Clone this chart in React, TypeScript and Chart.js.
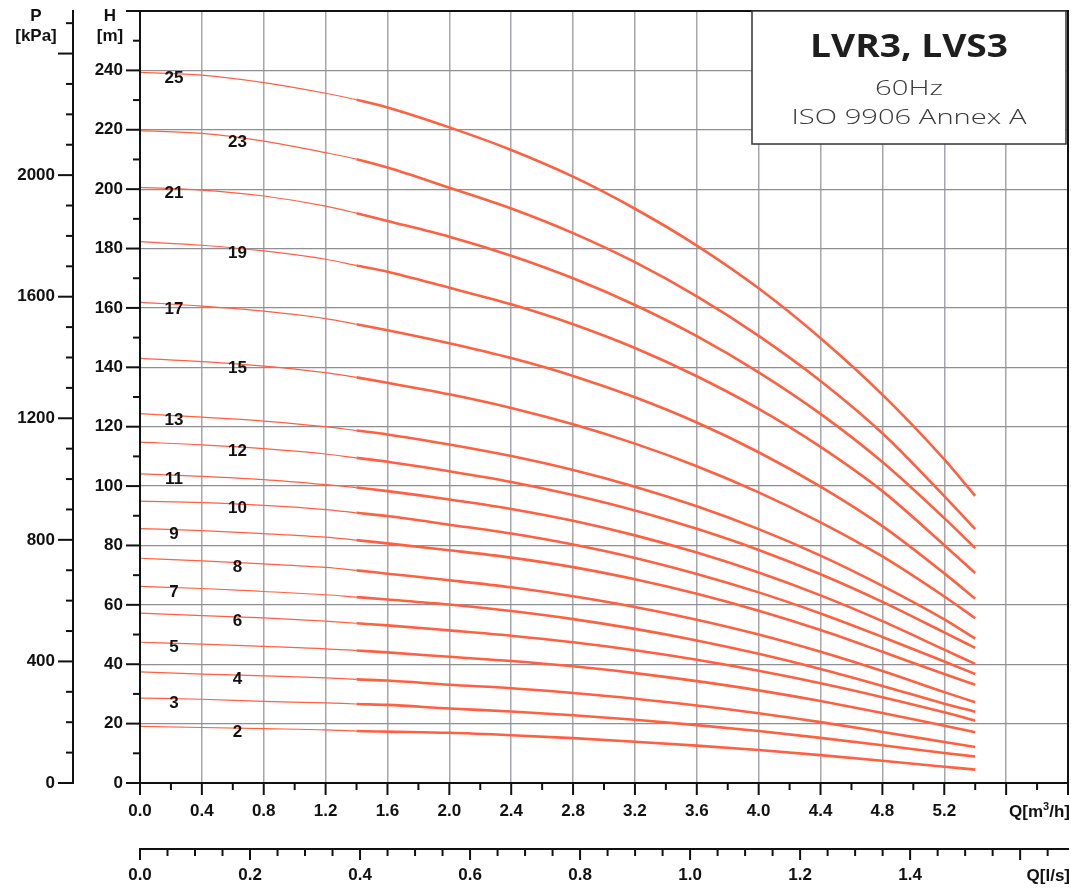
import React, { useEffect, useRef } from 'react';
import { Chart, registerables } from 'chart.js';

Chart.register(...registerables);

// ---------------- DATA ----------------
// Flow points (m3/h) at which every head curve is read
const flowQ = [0, 0.4, 0.8, 1.2, 1.4, 1.6, 2.0, 2.4, 2.8, 3.2, 3.6, 4.0, 4.4, 4.8, 5.2, 5.4];
// Number of stages of each curve (top to bottom)
const stages = [25, 23, 21, 19, 17, 15, 13, 12, 11, 10, 9, 8, 7, 6, 5, 4, 3, 2];

// Head H [m] of each curve at the flow points
const head25 = [239.3, 238.4, 235.9, 232.3, 230.1, 227.5, 220.8, 213.2, 204.2, 193.4, 181.0, 166.6, 149.8, 130.8, 109.0, 96.7];
const head23 = [219.7, 218.8, 216.2, 212.3, 210.1, 207.3, 200.5, 193.5, 185.2, 175.4, 163.9, 150.6, 135.4, 117.8, 96.6, 85.5];
const head21 = [200.6, 199.7, 197.7, 194.3, 191.9, 189.3, 184.0, 177.6, 170.0, 161.0, 150.5, 138.3, 124.3, 108.1, 89.2, 79.1];
const head19 = [182.3, 181.1, 179.2, 176.4, 174.3, 172.2, 166.8, 161.2, 154.5, 146.5, 137.0, 126.0, 113.2, 98.3, 80.1, 70.7];
const head17 = [161.9, 160.6, 158.9, 156.4, 154.5, 152.5, 148.1, 143.1, 137.1, 129.9, 121.4, 111.4, 99.8, 86.5, 70.6, 62.1];
const head15 = [143.0, 141.9, 140.4, 138.2, 136.6, 134.8, 130.9, 126.3, 120.8, 114.3, 106.7, 97.9, 87.8, 76.3, 62.8, 55.5];
const head13 = [124.4, 123.2, 121.9, 120.0, 118.7, 117.4, 114.0, 110.1, 105.4, 99.8, 93.2, 85.5, 76.6, 66.4, 55.1, 48.6];
const head12 = [114.8, 113.9, 112.6, 110.8, 109.5, 108.2, 105.0, 101.4, 97.0, 91.8, 85.6, 78.5, 70.3, 61.0, 50.7, 45.5];
const head11 = [104.1, 103.3, 102.2, 100.5, 99.5, 98.3, 95.5, 92.3, 88.3, 83.4, 77.6, 70.9, 63.2, 54.5, 44.9, 40.1];
const head10 = [94.9, 94.4, 93.5, 92.1, 91.0, 89.9, 87.0, 84.0, 80.3, 75.8, 70.4, 64.2, 57.1, 49.2, 40.9, 36.7];
const head9 = [85.7, 85.0, 84.0, 82.8, 81.8, 80.7, 78.4, 75.9, 72.7, 68.6, 63.7, 58.0, 51.5, 44.2, 36.7, 33.1];
const head8 = [75.7, 74.8, 73.8, 72.6, 71.6, 70.5, 68.3, 65.9, 62.9, 59.3, 55.0, 50.0, 44.2, 37.7, 30.6, 27.2];
const head7 = [66.2, 65.5, 64.5, 63.4, 62.6, 61.8, 60.1, 57.9, 55.2, 51.9, 48.0, 43.5, 38.4, 32.7, 26.7, 24.0];
const head6 = [57.2, 56.4, 55.6, 54.5, 53.8, 53.1, 51.4, 49.6, 47.4, 44.7, 41.5, 37.8, 33.6, 28.9, 23.8, 21.0];
const head5 = [47.4, 46.8, 46.0, 45.2, 44.6, 44.0, 42.5, 41.1, 39.3, 37.0, 34.3, 31.2, 27.6, 23.6, 19.3, 17.1];
const head4 = [37.4, 36.7, 36.1, 35.4, 34.9, 34.5, 33.1, 31.9, 30.3, 28.4, 26.1, 23.5, 20.5, 17.2, 13.8, 12.1];
const head3 = [28.6, 28.2, 27.5, 27.0, 26.6, 26.3, 25.1, 24.1, 22.8, 21.3, 19.5, 17.5, 15.2, 12.7, 10.1, 8.9];
const head2 = [19.1, 18.7, 18.3, 17.9, 17.5, 17.3, 16.9, 16.1, 15.1, 13.9, 12.6, 11.1, 9.4, 7.5, 5.5, 4.5];

const headCurves = [head25, head23, head21, head19, head17, head15, head13, head12, head11,
  head10, head9, head8, head7, head6, head5, head4, head3, head2];

// Flow (m3/h) where each curve's stage number is written
const labelFlow = [0.22, 0.63, 0.22, 0.63, 0.22, 0.63, 0.22, 0.63, 0.22, 0.63, 0.22, 0.63, 0.22, 0.63, 0.22, 0.63, 0.22, 0.63];
// Flow from which the curves are drawn thick (recommended range)
const thickFrom = 1.4;

// Axis ranges and tick labels
const qMax = 6.0;
const lsMax = 1.687;
const headMax = 260;
const pressureMax = 2540;
const qTickLabels = ['0.0', '0.4', '0.8', '1.2', '1.6', '2.0', '2.4', '2.8', '3.2', '3.6', '4.0', '4.4', '4.8', '5.2'];
const lsTickLabels = ['0.0', '0.2', '0.4', '0.6', '0.8', '1.0', '1.2', '1.4'];
const headTickLabels = ['0', '20', '40', '60', '80', '100', '120', '140', '160', '180', '200', '220', '240'];
const pressureTickLabels = ['0', '400', '800', '1200', '1600', '2000'];

const titleLines = ['LVR3, LVS3', '60Hz', 'ISO 9906 Annex A'];

// ---------------- STYLE ----------------
const FONT = '"Liberation Sans", Arial, Helvetica, sans-serif';
const CURVE_COLOR = '#ff6040';
const INK = '#111111';

function interp(xs: number[], ys: number[], q: number) {
  for (let i = 0; i < xs.length - 1; i++) {
    if (q >= xs[i] && q <= xs[i + 1]) {
      const t = (q - xs[i]) / (xs[i + 1] - xs[i]);
      return ys[i] + t * (ys[i + 1] - ys[i]);
    }
  }
  return ys[ys.length - 1];
}

function labelFor(list: string[]) {
  return (value: any) => {
    const v = Number(value);
    const found = list.find((l) => Math.abs(parseFloat(l) - v) < 1e-6);
    return found ?? '';
  };
}

function stepTicks(step: number, max: number) {
  const out: { value: number }[] = [];
  const n = Math.floor(max / step + 1e-6);
  for (let i = 0; i <= n; i++) out.push({ value: +(i * step).toFixed(6) });
  return out;
}

function isMultiple(v: number, m: number) {
  const r = v / m;
  return Math.abs(r - Math.round(r)) < 1e-6;
}

function fixSize(dim: 'width' | 'height', size: number) {
  return (s: any) => {
    s[dim] = size;
    s.paddingTop = 0;
    s.paddingBottom = 0;
    s.paddingLeft = 0;
    s.paddingRight = 0;
  };
}

const tickFont = { family: FONT, size: 17, weight: 'bold' as const };

const decorPlugin = {
  id: 'decor',
  afterDatasetsDraw(chart: any) {
    const ctx = chart.ctx as CanvasRenderingContext2D;
    const xs = chart.scales.x;
    const ys = chart.scales.y;
    ctx.save();
    ctx.fillStyle = INK;
    ctx.font = `bold 17px ${FONT}`;
    ctx.textAlign = 'center';
    ctx.textBaseline = 'alphabetic';
    headCurves.forEach((h, i) => {
      const q = labelFlow[i];
      const hv = interp(flowQ, h, q);
      const px = xs.getPixelForValue(q);
      const py = ys.getPixelForValue(hv) + 3;
      ctx.fillText(String(stages[i]), px, py + 6.1);
    });
    ctx.restore();
  },
  afterDraw(chart: any) {
    const ctx = chart.ctx as CanvasRenderingContext2D;
    const ca = chart.chartArea;
    const { x, ls, y, p } = chart.scales;
    ctx.save();
    // tick marks
    ctx.strokeStyle = INK;
    ctx.lineWidth = 2;
    const line = (x1: number, y1: number, x2: number, y2: number) => {
      ctx.beginPath();
      ctx.moveTo(x1, y1);
      ctx.lineTo(x2, y2);
      ctx.stroke();
    };
    x.ticks.forEach((t: any) => {
      const px = x.getPixelForValue(t.value);
      const len = isMultiple(t.value, 0.4) ? 12 : 7;
      line(px, x.top, px, x.top + len);
    });
    ls.ticks.forEach((t: any) => {
      const px = ls.getPixelForValue(t.value);
      const len = isMultiple(t.value, 0.2) ? 11 : 7;
      line(px, ls.top, px, ls.top + len);
    });
    y.ticks.forEach((t: any) => {
      const py = y.getPixelForValue(t.value);
      const len = isMultiple(t.value, 20) ? 14 : 7;
      line(y.right, py, y.right - len, py);
    });
    p.ticks.forEach((t: any) => {
      const py = p.getPixelForValue(t.value);
      const len = isMultiple(t.value, 400) ? 15 : 7;
      line(p.right, py, p.right - len, py);
    });
    // chart frame
    ctx.strokeRect(ca.left, ca.top, ca.right - ca.left, ca.bottom - ca.top);

    // axis titles
    ctx.fillStyle = INK;
    ctx.font = `bold 17px ${FONT}`;
    ctx.textAlign = 'center';
    ctx.textBaseline = 'alphabetic';
    const pCx = p.right - 37;
    ctx.fillText('P', pCx, 21);
    ctx.fillText('[kPa]', pCx, 41);
    const hCx = y.right - 30;
    ctx.fillText('H', hCx, 21);
    ctx.fillText('[m]', hCx, 41);

    // Q[m3/h]
    const rightEdge = chart.width - 1;
    const partA = 'Q[m';
    const partB = '/h]';
    ctx.font = `bold 17px ${FONT}`;
    const wA = ctx.measureText(partA).width;
    const wB = ctx.measureText(partB).width;
    ctx.font = `bold 11px ${FONT}`;
    const wS = ctx.measureText('3').width;
    const base1 = x.top + 34;
    let sx = rightEdge - (wA + wS + wB);
    ctx.textAlign = 'left';
    ctx.font = `bold 17px ${FONT}`;
    ctx.fillText(partA, sx, base1);
    sx += wA;
    ctx.font = `bold 11px ${FONT}`;
    ctx.fillText('3', sx, base1 - 7);
    sx += wS;
    ctx.font = `bold 17px ${FONT}`;
    ctx.fillText(partB, sx, base1);
    ctx.textAlign = 'right';
    ctx.fillText('Q[l/s]', rightEdge, ls.top + 32);

    // title box
    const bx = ca.right - 316;
    const by = ca.top;
    const bw = 314;
    const bh = 133;
    ctx.fillStyle = '#ffffff';
    ctx.fillRect(bx, by, bw, bh);
    ctx.strokeStyle = '#333333';
    ctx.lineWidth = 1.5;
    ctx.strokeRect(bx, by, bw, bh);
    const cx = bx + bw / 2;
    const fit = (text: string, baseline: number, targetW: number) => {
      const w = ctx.measureText(text).width;
      ctx.save();
      ctx.translate(cx, baseline);
      ctx.scale(targetW / w, 1);
      ctx.textAlign = 'center';
      ctx.fillText(text, 0, 0);
      ctx.restore();
    };
    ctx.fillStyle = '#1e1e1e';
    ctx.font = `bold 33px "Open Sans", ${FONT}`;
    fit(titleLines[0], by + 46, 198);
    ctx.fillStyle = '#3a3a3a';
    ctx.font = `300 21px "Open Sans", Lato, ${FONT}`;
    fit(titleLines[1], by + 84, 68);
    fit(titleLines[2], by + 113, 235);
    ctx.restore();
  },
};

export default function App() {
  const ref = useRef<HTMLCanvasElement>(null);
  useEffect(() => {
    const canvas = ref.current;
    if (!canvas) return;
    const datasets = headCurves.map((h, i) => ({
      label: `${stages[i]}`,
      data: flowQ.map((q, j) => ({ x: q, y: h[j] })),
      borderColor: CURVE_COLOR,
      borderWidth: 2.6,
      pointRadius: 0,
      fill: false,
      cubicInterpolationMode: 'monotone' as const,
      xAxisID: 'x',
      yAxisID: 'y',
      segment: {
        borderWidth: (c: any) => (c.p0.parsed.x < thickFrom - 1e-6 ? 1.2 : 2.6),
      },
    }));
    const chart = new Chart(canvas, {
      type: 'line',
      data: { datasets },
      plugins: [decorPlugin],
      options: {
        responsive: false,
        animation: false,
        events: [],
        layout: { padding: { top: 11, right: 3, left: 0, bottom: 0 } },
        plugins: { legend: { display: false }, tooltip: { enabled: false } },
        scales: {
          x: {
            type: 'linear',
            position: 'bottom',
            weight: 0,
            min: 0,
            max: qMax,
            afterBuildTicks: (s: any) => { s.ticks = stepTicks(0.2, qMax); },
            afterFit: fixSize('height', 66),
            border: { display: true, color: INK, width: 2 },
            grid: {
              drawTicks: false,
              lineWidth: 1.5,
              color: (c: any) => {
                const v = c.tick ? c.tick.value : 0;
                return isMultiple(v, 0.4) && v > 0.01 && v < qMax - 0.01 ? '#a6a6ae' : 'rgba(0,0,0,0)';
              },
            },
            ticks: { autoSkip: false, maxRotation: 0, minRotation: 0, padding: 18, font: tickFont, color: INK, callback: labelFor(qTickLabels) },
          },
          ls: {
            type: 'linear',
            position: 'bottom',
            weight: 1,
            min: 0,
            max: lsMax,
            afterBuildTicks: (s: any) => { s.ticks = stepTicks(0.05, lsMax); },
            afterFit: fixSize('height', 40),
            border: { display: true, color: INK, width: 2 },
            grid: { display: false, drawTicks: false },
            ticks: { autoSkip: false, maxRotation: 0, minRotation: 0, padding: 16, font: tickFont, color: INK, callback: labelFor(lsTickLabels) },
          },
          y: {
            type: 'linear',
            position: 'left',
            weight: 0,
            min: 0,
            max: headMax,
            afterBuildTicks: (s: any) => { s.ticks = stepTicks(10, headMax); },
            afterFit: fixSize('width', 67),
            border: { display: true, color: INK, width: 2 },
            grid: {
              drawTicks: false,
              lineWidth: 1.2,
              color: (c: any) => {
                const v = c.tick ? c.tick.value : 0;
                return isMultiple(v, 20) && v > 0.01 && v < headMax - 0.01 ? '#8e8e94' : 'rgba(0,0,0,0)';
              },
            },
            ticks: { autoSkip: false, padding: 17, font: tickFont, color: INK, callback: labelFor(headTickLabels) },
          },
          p: {
            type: 'linear',
            position: 'left',
            weight: 1,
            min: 0,
            max: pressureMax,
            afterBuildTicks: (s: any) => { s.ticks = stepTicks(100, pressureMax); },
            afterFit: fixSize('width', 73),
            border: { display: true, color: INK, width: 2 },
            grid: { display: false, drawTicks: false },
            ticks: { autoSkip: false, padding: 18, font: tickFont, color: INK, callback: labelFor(pressureTickLabels) },
          },
        },
      } as any,
    });
    return () => chart.destroy();
  }, []);

  return (
    <>
      <style>{'body{margin:0;background:#fff;}'}</style>
      <canvas ref={ref} width={1071} height={889} style={{ display: 'block' }} />
    </>
  );
}
